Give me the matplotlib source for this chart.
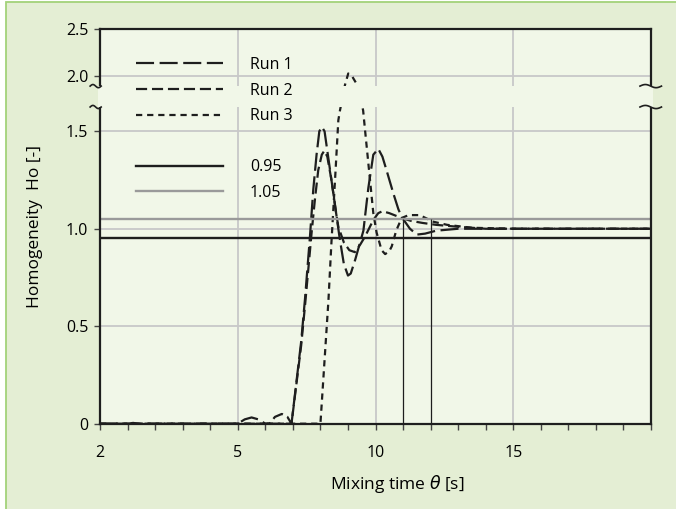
import matplotlib
matplotlib.use("Agg")
import matplotlib.pyplot as plt
from matplotlib.lines import Line2D
from matplotlib.patches import Rectangle
from matplotlib.ticker import FixedLocator, MultipleLocator, NullLocator
import numpy as np

plt.rcParams['font.family'] = ['Open Sans', 'DejaVu Sans']
plt.rcParams['lines.scale_dashes'] = False

# mixing time [s] and homogeneity [-]
run1_t = [0, 1.0, 1.2, 1.4, 5.0, 5.25, 5.5, 5.75, 6.0, 6.95, 7.3, 7.44, 7.62, 7.74, 7.86, 7.96, 8.05,
          8.15, 8.35, 8.53, 8.7, 8.85, 9.0, 9.1, 9.26, 9.56, 9.74, 9.92, 10.1, 10.25, 10.4, 10.65,
          10.83, 10.95, 11.25, 11.5, 11.8, 12.2, 13.0, 20.0]
run1_h = [0, 0, 0.004, 0, 0, 0.022, 0.032, 0.022, 0, 0, 0.42, 0.64, 0.96, 1.2, 1.38, 1.5, 1.54,
          1.5, 1.3, 1.12, 0.95, 0.82, 0.76, 0.77, 0.84, 0.99, 1.21, 1.38, 1.41, 1.37, 1.3, 1.18,
          1.1, 1.06, 1.0, 0.97, 0.975, 0.99, 1.0, 1.0]

run2_t = [0, 6.15, 6.35, 6.6, 6.8, 6.95, 7.3, 7.45, 7.68, 7.8, 7.92, 8.05, 8.14, 8.25, 8.4, 8.55,
          8.65, 8.85, 9.05, 9.25, 9.45, 9.62, 9.92, 10.1, 10.25, 10.5, 10.95, 11.3, 11.7, 12.2,
          13.0, 14.0, 20.0]
run2_h = [0, 0, 0.035, 0.05, 0.035, 0.0, 0.4, 0.62, 0.98, 1.15, 1.3, 1.38, 1.4, 1.37, 1.25, 1.1,
          1.01, 0.93, 0.89, 0.88, 0.92, 0.96, 1.045, 1.08, 1.09, 1.08, 1.055, 1.04, 1.03, 1.02,
          1.01, 1.0, 1.0]

run3_t = [0, 8.0, 8.29, 8.4, 8.55, 8.65, 8.71, 8.89, 9.01, 9.15, 9.34, 9.55, 9.62, 9.8, 9.92,
          10.04, 10.22, 10.35, 10.5, 10.59, 10.75, 10.95, 11.2, 11.6, 12.1, 12.6, 13.5, 15.0, 20.0]
run3_h = [0, 0, 0.63, 0.93, 1.3, 1.6, 1.69, 1.92, 2.03, 2.0, 1.92, 1.69, 1.51, 1.25, 1.08,
          0.98, 0.89, 0.87, 0.885, 0.91, 0.99, 1.055, 1.07, 1.07, 1.036, 1.02, 1.005, 1.0, 1.0]

lower_limit = 0.95
upper_limit = 1.05
mixing_times = [11, 12]

x_ticks = [0, 5, 10, 15, 20]
x_labels = ['2', '5', '10', '15', '']
y_ticks = [0, 0.5, 1.0, 1.5, 2.0, 2.5]
y_labels = ['0', '0.5', '1.0', '1.5', '2.0', '2.5']

# broken y axis: the part above 1.5 is squeezed
VP = [-1, 0, 1.5, 2.0, 2.5, 4.0]
FP = [-1, 0, 1.5, 1.782, 2.023, 2.746]


def fwd(v):
    return np.interp(v, VP, FP)


def inv(f):
    return np.interp(f, FP, VP)


outer_bg = '#e4eed4'
plot_bg = '#f1f7e8'
ink = '#1e1e1e'

fig = plt.figure(figsize=(6.76, 5.09), dpi=100, facecolor='white')
fig.add_artist(Rectangle((5.5 / 676, -0.02), 1.1, (509 - 2) / 509 + 0.02, transform=fig.transFigure,
                         facecolor=outer_bg, edgecolor='#a3d27a', lw=1.3, zorder=-10))
ax = fig.add_axes([0.148, 0.1676, 0.815, 0.7748])
ax.set_facecolor(plot_bg)

ax.set_yscale('function', functions=(fwd, inv))
ax.set_xlim(0, 20)
ax.set_ylim(0, 2.5)

ax.set_axisbelow(True)
ax.xaxis.set_major_locator(FixedLocator(x_ticks))
ax.xaxis.set_minor_locator(MultipleLocator(1))
ax.set_xticklabels(x_labels)
ax.yaxis.set_major_locator(FixedLocator(y_ticks))
ax.yaxis.set_minor_locator(NullLocator())
ax.set_yticklabels(y_labels)
ax.grid(True, which='major', color='#c8c8c8', lw=1.3)

ax.tick_params(axis='x', which='both', direction='out', length=4, width=1, color='#444444',
               labelsize=11.5, pad=11)
ax.tick_params(axis='y', which='both', direction='out', length=4.5, width=1, color='#444444',
               labelsize=11.5, pad=4)
for s in ax.spines.values():
    s.set_linewidth(1.6)
    s.set_color(ink)

l1, = ax.plot(run1_t, run1_h, color=ink, lw=1.6, dashes=(13, 4), label='Run 1')
l2, = ax.plot(run2_t, run2_h, color=ink, lw=1.6, dashes=(8, 3.5), label='Run 2')
l3, = ax.plot(run3_t, run3_h, color=ink, lw=1.6, dashes=(4.5, 3.5), label='Run 3')
r1 = ax.axhline(lower_limit, color=ink, lw=1.7, label='0.95')
r2 = ax.axhline(upper_limit, color='#9a9a9a', lw=1.7, label='1.05')
ax.vlines(mixing_times, 0, upper_limit, color=ink, lw=0.9)

# gap of the axis break
gap = ax.axhspan(1.72, 1.91, xmin=-0.004, xmax=1.004, facecolor=plot_bg, edgecolor='none', zorder=3)
gap.set_clip_on(False)
for yb in (0.856, 0.803):
    xs = np.linspace(-0.018, 0.002, 30)
    ax.plot(xs, yb + 0.004 * np.sin(2 * np.pi * (xs + 0.018) / 0.02), color=ink, lw=1.2,
            transform=ax.transAxes, clip_on=False, zorder=4)
    xs = np.linspace(0.98, 1.019, 30)
    ax.plot(xs, yb + 0.004 * np.sin(2 * np.pi * (xs - 0.98) / 0.039), color=ink, lw=1.2,
            transform=ax.transAxes, clip_on=False, zorder=4)

spacer = Line2D([], [], color='none')
leg = ax.legend([l1, l2, l3, spacer, r1, r2], ['Run 1', 'Run 2', 'Run 3', '', '0.95', '1.05'],
                loc='upper left', bbox_to_anchor=(0.066, 0.93), frameon=False, fontsize=11.5,
                handlelength=5.4, handletextpad=1.7, labelspacing=0.6, borderpad=0,
                borderaxespad=0)
leg.set_zorder(6)

ax.set_xlabel(r'Mixing time $\theta$ [s]', fontsize=12.5)
ax.xaxis.set_label_coords(0.54, -0.125)
ax.set_ylabel('Homogeneity  Ho [-]', fontsize=12.5)
ax.yaxis.set_label_coords(-0.118, 0.5)
ax.yaxis.label.set_va('center')

fig.savefig('out.png', dpi=100, facecolor=fig.get_facecolor())
